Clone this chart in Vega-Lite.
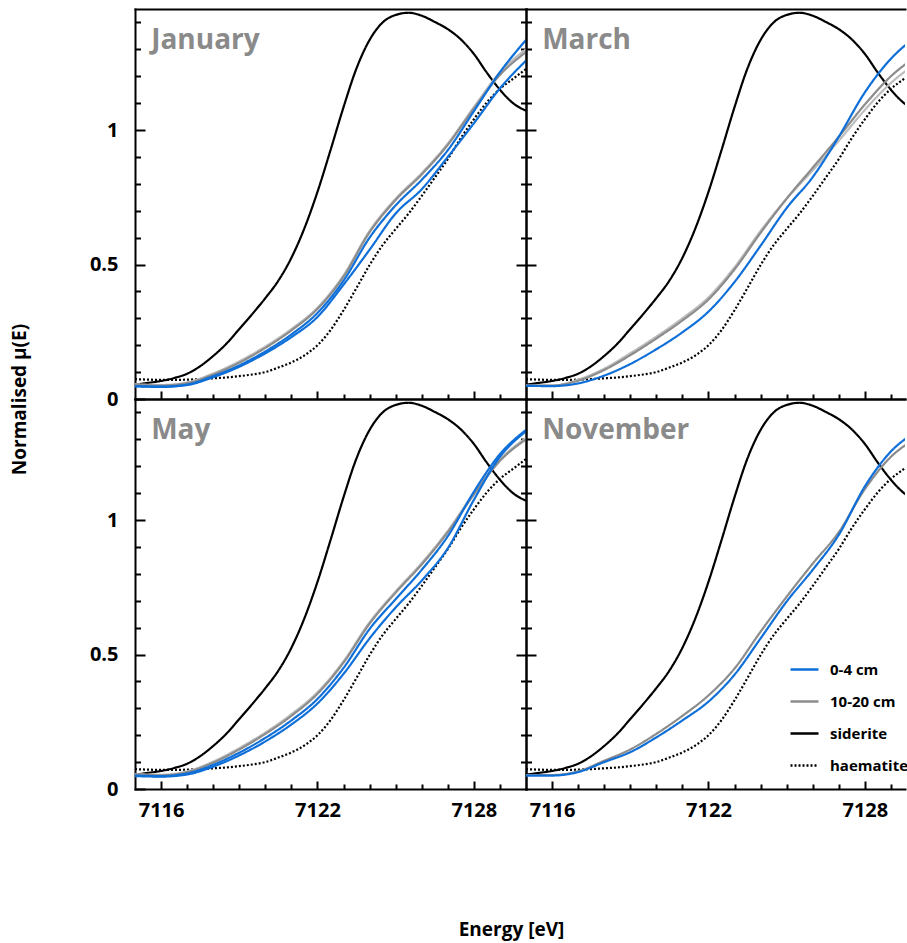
{
  "$schema": "https://vega.github.io/schema/vega-lite/v6.json",
  "padding": {"left": 10, "top": 9, "right": 0, "bottom": 3},
  "background": "white",
  "config": {"view": {"stroke": null}},
  "datasets": {
    "standards": [
      {"sample": "siderite", "energy": 7115, "mu": 0.053},
      {"sample": "siderite", "energy": 7115.5, "mu": 0.06},
      {"sample": "siderite", "energy": 7116, "mu": 0.067},
      {"sample": "siderite", "energy": 7116.5, "mu": 0.078},
      {"sample": "siderite", "energy": 7117, "mu": 0.094},
      {"sample": "siderite", "energy": 7117.5, "mu": 0.122},
      {"sample": "siderite", "energy": 7118, "mu": 0.16},
      {"sample": "siderite", "energy": 7118.5, "mu": 0.205},
      {"sample": "siderite", "energy": 7119, "mu": 0.26},
      {"sample": "siderite", "energy": 7119.5, "mu": 0.316},
      {"sample": "siderite", "energy": 7120, "mu": 0.375},
      {"sample": "siderite", "energy": 7120.5, "mu": 0.44},
      {"sample": "siderite", "energy": 7121, "mu": 0.525},
      {"sample": "siderite", "energy": 7121.5, "mu": 0.635},
      {"sample": "siderite", "energy": 7122, "mu": 0.77},
      {"sample": "siderite", "energy": 7122.5, "mu": 0.925},
      {"sample": "siderite", "energy": 7123, "mu": 1.085},
      {"sample": "siderite", "energy": 7123.5, "mu": 1.23},
      {"sample": "siderite", "energy": 7124, "mu": 1.335},
      {"sample": "siderite", "energy": 7124.5, "mu": 1.4},
      {"sample": "siderite", "energy": 7125, "mu": 1.428},
      {"sample": "siderite", "energy": 7125.5, "mu": 1.436},
      {"sample": "siderite", "energy": 7126, "mu": 1.425},
      {"sample": "siderite", "energy": 7126.5, "mu": 1.402},
      {"sample": "siderite", "energy": 7127, "mu": 1.375},
      {"sample": "siderite", "energy": 7127.5, "mu": 1.337},
      {"sample": "siderite", "energy": 7128, "mu": 1.283},
      {"sample": "siderite", "energy": 7128.5, "mu": 1.213},
      {"sample": "siderite", "energy": 7129, "mu": 1.15},
      {"sample": "siderite", "energy": 7129.5, "mu": 1.1},
      {"sample": "siderite", "energy": 7130, "mu": 1.072},
      {"sample": "haematite", "energy": 7115, "mu": 0.074},
      {"sample": "haematite", "energy": 7115.5, "mu": 0.072},
      {"sample": "haematite", "energy": 7116, "mu": 0.071},
      {"sample": "haematite", "energy": 7116.5, "mu": 0.071},
      {"sample": "haematite", "energy": 7117, "mu": 0.072},
      {"sample": "haematite", "energy": 7117.5, "mu": 0.074},
      {"sample": "haematite", "energy": 7118, "mu": 0.077},
      {"sample": "haematite", "energy": 7118.5, "mu": 0.08},
      {"sample": "haematite", "energy": 7119, "mu": 0.085},
      {"sample": "haematite", "energy": 7119.5, "mu": 0.091},
      {"sample": "haematite", "energy": 7120, "mu": 0.1},
      {"sample": "haematite", "energy": 7120.5, "mu": 0.117},
      {"sample": "haematite", "energy": 7121, "mu": 0.136},
      {"sample": "haematite", "energy": 7121.5, "mu": 0.162},
      {"sample": "haematite", "energy": 7122, "mu": 0.2},
      {"sample": "haematite", "energy": 7122.5, "mu": 0.256},
      {"sample": "haematite", "energy": 7123, "mu": 0.33},
      {"sample": "haematite", "energy": 7123.5, "mu": 0.413},
      {"sample": "haematite", "energy": 7124, "mu": 0.498},
      {"sample": "haematite", "energy": 7124.5, "mu": 0.572},
      {"sample": "haematite", "energy": 7125, "mu": 0.632},
      {"sample": "haematite", "energy": 7125.5, "mu": 0.69},
      {"sample": "haematite", "energy": 7126, "mu": 0.755},
      {"sample": "haematite", "energy": 7126.5, "mu": 0.823},
      {"sample": "haematite", "energy": 7127, "mu": 0.892},
      {"sample": "haematite", "energy": 7127.5, "mu": 0.97},
      {"sample": "haematite", "energy": 7128, "mu": 1.04},
      {"sample": "haematite", "energy": 7128.5, "mu": 1.103},
      {"sample": "haematite", "energy": 7129, "mu": 1.153},
      {"sample": "haematite", "energy": 7129.5, "mu": 1.19},
      {"sample": "haematite", "energy": 7130, "mu": 1.227}
    ],
    "samples": [
      {"month": "January", "sample": "10-20 cm (2)", "energy": 7115, "mu": 0.055},
      {"month": "January", "sample": "10-20 cm (2)", "energy": 7116, "mu": 0.052},
      {"month": "January", "sample": "10-20 cm (2)", "energy": 7117, "mu": 0.062},
      {"month": "January", "sample": "10-20 cm (2)", "energy": 7118, "mu": 0.095},
      {"month": "January", "sample": "10-20 cm (2)", "energy": 7119, "mu": 0.14},
      {"month": "January", "sample": "10-20 cm (2)", "energy": 7120, "mu": 0.195},
      {"month": "January", "sample": "10-20 cm (2)", "energy": 7121, "mu": 0.26},
      {"month": "January", "sample": "10-20 cm (2)", "energy": 7122, "mu": 0.34},
      {"month": "January", "sample": "10-20 cm (2)", "energy": 7123, "mu": 0.46},
      {"month": "January", "sample": "10-20 cm (2)", "energy": 7124, "mu": 0.625},
      {"month": "January", "sample": "10-20 cm (2)", "energy": 7125, "mu": 0.745},
      {"month": "January", "sample": "10-20 cm (2)", "energy": 7126, "mu": 0.84},
      {"month": "January", "sample": "10-20 cm (2)", "energy": 7127, "mu": 0.95},
      {"month": "January", "sample": "10-20 cm (2)", "energy": 7128, "mu": 1.085},
      {"month": "January", "sample": "10-20 cm (2)", "energy": 7129, "mu": 1.215},
      {"month": "January", "sample": "10-20 cm (2)", "energy": 7130, "mu": 1.3},
      {"month": "January", "sample": "10-20 cm", "energy": 7115, "mu": 0.052},
      {"month": "January", "sample": "10-20 cm", "energy": 7116, "mu": 0.05},
      {"month": "January", "sample": "10-20 cm", "energy": 7117, "mu": 0.059},
      {"month": "January", "sample": "10-20 cm", "energy": 7118, "mu": 0.091},
      {"month": "January", "sample": "10-20 cm", "energy": 7119, "mu": 0.135},
      {"month": "January", "sample": "10-20 cm", "energy": 7120, "mu": 0.19},
      {"month": "January", "sample": "10-20 cm", "energy": 7121, "mu": 0.255},
      {"month": "January", "sample": "10-20 cm", "energy": 7122, "mu": 0.335},
      {"month": "January", "sample": "10-20 cm", "energy": 7123, "mu": 0.455},
      {"month": "January", "sample": "10-20 cm", "energy": 7124, "mu": 0.62},
      {"month": "January", "sample": "10-20 cm", "energy": 7125, "mu": 0.74},
      {"month": "January", "sample": "10-20 cm", "energy": 7126, "mu": 0.835},
      {"month": "January", "sample": "10-20 cm", "energy": 7127, "mu": 0.945},
      {"month": "January", "sample": "10-20 cm", "energy": 7128, "mu": 1.08},
      {"month": "January", "sample": "10-20 cm", "energy": 7129, "mu": 1.205},
      {"month": "January", "sample": "10-20 cm", "energy": 7130, "mu": 1.29},
      {"month": "January", "sample": "0-4 cm (2)", "energy": 7115, "mu": 0.047},
      {"month": "January", "sample": "0-4 cm (2)", "energy": 7116, "mu": 0.045},
      {"month": "January", "sample": "0-4 cm (2)", "energy": 7117, "mu": 0.052},
      {"month": "January", "sample": "0-4 cm (2)", "energy": 7118, "mu": 0.081},
      {"month": "January", "sample": "0-4 cm (2)", "energy": 7119, "mu": 0.12},
      {"month": "January", "sample": "0-4 cm (2)", "energy": 7120, "mu": 0.17},
      {"month": "January", "sample": "0-4 cm (2)", "energy": 7121, "mu": 0.23},
      {"month": "January", "sample": "0-4 cm (2)", "energy": 7122, "mu": 0.305},
      {"month": "January", "sample": "0-4 cm (2)", "energy": 7123, "mu": 0.425},
      {"month": "January", "sample": "0-4 cm (2)", "energy": 7124, "mu": 0.555},
      {"month": "January", "sample": "0-4 cm (2)", "energy": 7125, "mu": 0.69},
      {"month": "January", "sample": "0-4 cm (2)", "energy": 7126, "mu": 0.78},
      {"month": "January", "sample": "0-4 cm (2)", "energy": 7127, "mu": 0.9},
      {"month": "January", "sample": "0-4 cm (2)", "energy": 7128, "mu": 1.025},
      {"month": "January", "sample": "0-4 cm (2)", "energy": 7129, "mu": 1.155},
      {"month": "January", "sample": "0-4 cm (2)", "energy": 7130, "mu": 1.258},
      {"month": "January", "sample": "0-4 cm", "energy": 7115, "mu": 0.048},
      {"month": "January", "sample": "0-4 cm", "energy": 7116, "mu": 0.046},
      {"month": "January", "sample": "0-4 cm", "energy": 7117, "mu": 0.054},
      {"month": "January", "sample": "0-4 cm", "energy": 7118, "mu": 0.085},
      {"month": "January", "sample": "0-4 cm", "energy": 7119, "mu": 0.125},
      {"month": "January", "sample": "0-4 cm", "energy": 7120, "mu": 0.177},
      {"month": "January", "sample": "0-4 cm", "energy": 7121, "mu": 0.24},
      {"month": "January", "sample": "0-4 cm", "energy": 7122, "mu": 0.32},
      {"month": "January", "sample": "0-4 cm", "energy": 7123, "mu": 0.44},
      {"month": "January", "sample": "0-4 cm", "energy": 7124, "mu": 0.6},
      {"month": "January", "sample": "0-4 cm", "energy": 7125, "mu": 0.72},
      {"month": "January", "sample": "0-4 cm", "energy": 7126, "mu": 0.815},
      {"month": "January", "sample": "0-4 cm", "energy": 7127, "mu": 0.925},
      {"month": "January", "sample": "0-4 cm", "energy": 7128, "mu": 1.07},
      {"month": "January", "sample": "0-4 cm", "energy": 7129, "mu": 1.215},
      {"month": "January", "sample": "0-4 cm", "energy": 7130, "mu": 1.335},
      {"month": "March", "sample": "10-20 cm (2)", "energy": 7115, "mu": 0.05},
      {"month": "March", "sample": "10-20 cm (2)", "energy": 7116, "mu": 0.05},
      {"month": "March", "sample": "10-20 cm (2)", "energy": 7117, "mu": 0.072},
      {"month": "March", "sample": "10-20 cm (2)", "energy": 7118, "mu": 0.113},
      {"month": "March", "sample": "10-20 cm (2)", "energy": 7119, "mu": 0.17},
      {"month": "March", "sample": "10-20 cm (2)", "energy": 7120, "mu": 0.232},
      {"month": "March", "sample": "10-20 cm (2)", "energy": 7121, "mu": 0.3},
      {"month": "March", "sample": "10-20 cm (2)", "energy": 7122, "mu": 0.378},
      {"month": "March", "sample": "10-20 cm (2)", "energy": 7123, "mu": 0.49},
      {"month": "March", "sample": "10-20 cm (2)", "energy": 7124, "mu": 0.625},
      {"month": "March", "sample": "10-20 cm (2)", "energy": 7125, "mu": 0.745},
      {"month": "March", "sample": "10-20 cm (2)", "energy": 7126, "mu": 0.85},
      {"month": "March", "sample": "10-20 cm (2)", "energy": 7127, "mu": 0.96},
      {"month": "March", "sample": "10-20 cm (2)", "energy": 7128, "mu": 1.075},
      {"month": "March", "sample": "10-20 cm (2)", "energy": 7129, "mu": 1.175},
      {"month": "March", "sample": "10-20 cm (2)", "energy": 7130, "mu": 1.25},
      {"month": "March", "sample": "10-20 cm", "energy": 7115, "mu": 0.05},
      {"month": "March", "sample": "10-20 cm", "energy": 7116, "mu": 0.05},
      {"month": "March", "sample": "10-20 cm", "energy": 7117, "mu": 0.068},
      {"month": "March", "sample": "10-20 cm", "energy": 7118, "mu": 0.108},
      {"month": "March", "sample": "10-20 cm", "energy": 7119, "mu": 0.163},
      {"month": "March", "sample": "10-20 cm", "energy": 7120, "mu": 0.225},
      {"month": "March", "sample": "10-20 cm", "energy": 7121, "mu": 0.292},
      {"month": "March", "sample": "10-20 cm", "energy": 7122, "mu": 0.37},
      {"month": "March", "sample": "10-20 cm", "energy": 7123, "mu": 0.482},
      {"month": "March", "sample": "10-20 cm", "energy": 7124, "mu": 0.618},
      {"month": "March", "sample": "10-20 cm", "energy": 7125, "mu": 0.745},
      {"month": "March", "sample": "10-20 cm", "energy": 7126, "mu": 0.86},
      {"month": "March", "sample": "10-20 cm", "energy": 7127, "mu": 0.975},
      {"month": "March", "sample": "10-20 cm", "energy": 7128, "mu": 1.095},
      {"month": "March", "sample": "10-20 cm", "energy": 7129, "mu": 1.2},
      {"month": "March", "sample": "10-20 cm", "energy": 7130, "mu": 1.275},
      {"month": "March", "sample": "0-4 cm", "energy": 7115, "mu": 0.049},
      {"month": "March", "sample": "0-4 cm", "energy": 7116, "mu": 0.048},
      {"month": "March", "sample": "0-4 cm", "energy": 7117, "mu": 0.058},
      {"month": "March", "sample": "0-4 cm", "energy": 7118, "mu": 0.087},
      {"month": "March", "sample": "0-4 cm", "energy": 7119, "mu": 0.13},
      {"month": "March", "sample": "0-4 cm", "energy": 7120, "mu": 0.185},
      {"month": "March", "sample": "0-4 cm", "energy": 7121, "mu": 0.248},
      {"month": "March", "sample": "0-4 cm", "energy": 7122, "mu": 0.325},
      {"month": "March", "sample": "0-4 cm", "energy": 7123, "mu": 0.435},
      {"month": "March", "sample": "0-4 cm", "energy": 7124, "mu": 0.57},
      {"month": "March", "sample": "0-4 cm", "energy": 7125, "mu": 0.71},
      {"month": "March", "sample": "0-4 cm", "energy": 7126, "mu": 0.825},
      {"month": "March", "sample": "0-4 cm", "energy": 7127, "mu": 0.975},
      {"month": "March", "sample": "0-4 cm", "energy": 7128, "mu": 1.14},
      {"month": "March", "sample": "0-4 cm", "energy": 7129, "mu": 1.265},
      {"month": "March", "sample": "0-4 cm", "energy": 7130, "mu": 1.35},
      {"month": "May", "sample": "10-20 cm (2)", "energy": 7115, "mu": 0.055},
      {"month": "May", "sample": "10-20 cm (2)", "energy": 7116, "mu": 0.053},
      {"month": "May", "sample": "10-20 cm (2)", "energy": 7117, "mu": 0.066},
      {"month": "May", "sample": "10-20 cm (2)", "energy": 7118, "mu": 0.102},
      {"month": "May", "sample": "10-20 cm (2)", "energy": 7119, "mu": 0.152},
      {"month": "May", "sample": "10-20 cm (2)", "energy": 7120, "mu": 0.21},
      {"month": "May", "sample": "10-20 cm (2)", "energy": 7121, "mu": 0.278},
      {"month": "May", "sample": "10-20 cm (2)", "energy": 7122, "mu": 0.36},
      {"month": "May", "sample": "10-20 cm (2)", "energy": 7123, "mu": 0.475},
      {"month": "May", "sample": "10-20 cm (2)", "energy": 7124, "mu": 0.62},
      {"month": "May", "sample": "10-20 cm (2)", "energy": 7125, "mu": 0.735},
      {"month": "May", "sample": "10-20 cm (2)", "energy": 7126, "mu": 0.84},
      {"month": "May", "sample": "10-20 cm (2)", "energy": 7127, "mu": 0.96},
      {"month": "May", "sample": "10-20 cm (2)", "energy": 7128, "mu": 1.1},
      {"month": "May", "sample": "10-20 cm (2)", "energy": 7129, "mu": 1.225},
      {"month": "May", "sample": "10-20 cm (2)", "energy": 7130, "mu": 1.305},
      {"month": "May", "sample": "10-20 cm", "energy": 7115, "mu": 0.053},
      {"month": "May", "sample": "10-20 cm", "energy": 7116, "mu": 0.051},
      {"month": "May", "sample": "10-20 cm", "energy": 7117, "mu": 0.063},
      {"month": "May", "sample": "10-20 cm", "energy": 7118, "mu": 0.098},
      {"month": "May", "sample": "10-20 cm", "energy": 7119, "mu": 0.147},
      {"month": "May", "sample": "10-20 cm", "energy": 7120, "mu": 0.205},
      {"month": "May", "sample": "10-20 cm", "energy": 7121, "mu": 0.272},
      {"month": "May", "sample": "10-20 cm", "energy": 7122, "mu": 0.354},
      {"month": "May", "sample": "10-20 cm", "energy": 7123, "mu": 0.47},
      {"month": "May", "sample": "10-20 cm", "energy": 7124, "mu": 0.615},
      {"month": "May", "sample": "10-20 cm", "energy": 7125, "mu": 0.73},
      {"month": "May", "sample": "10-20 cm", "energy": 7126, "mu": 0.835},
      {"month": "May", "sample": "10-20 cm", "energy": 7127, "mu": 0.955},
      {"month": "May", "sample": "10-20 cm", "energy": 7128, "mu": 1.095},
      {"month": "May", "sample": "10-20 cm", "energy": 7129, "mu": 1.22},
      {"month": "May", "sample": "10-20 cm", "energy": 7130, "mu": 1.3},
      {"month": "May", "sample": "0-4 cm (2)", "energy": 7115, "mu": 0.048},
      {"month": "May", "sample": "0-4 cm (2)", "energy": 7116, "mu": 0.046},
      {"month": "May", "sample": "0-4 cm (2)", "energy": 7117, "mu": 0.054},
      {"month": "May", "sample": "0-4 cm (2)", "energy": 7118, "mu": 0.083},
      {"month": "May", "sample": "0-4 cm (2)", "energy": 7119, "mu": 0.125},
      {"month": "May", "sample": "0-4 cm (2)", "energy": 7120, "mu": 0.177},
      {"month": "May", "sample": "0-4 cm (2)", "energy": 7121, "mu": 0.24},
      {"month": "May", "sample": "0-4 cm (2)", "energy": 7122, "mu": 0.318},
      {"month": "May", "sample": "0-4 cm (2)", "energy": 7123, "mu": 0.428},
      {"month": "May", "sample": "0-4 cm (2)", "energy": 7124, "mu": 0.56},
      {"month": "May", "sample": "0-4 cm (2)", "energy": 7125, "mu": 0.675},
      {"month": "May", "sample": "0-4 cm (2)", "energy": 7126, "mu": 0.775},
      {"month": "May", "sample": "0-4 cm (2)", "energy": 7127, "mu": 0.895},
      {"month": "May", "sample": "0-4 cm (2)", "energy": 7128, "mu": 1.075},
      {"month": "May", "sample": "0-4 cm (2)", "energy": 7129, "mu": 1.235},
      {"month": "May", "sample": "0-4 cm (2)", "energy": 7130, "mu": 1.33},
      {"month": "May", "sample": "0-4 cm", "energy": 7115, "mu": 0.05},
      {"month": "May", "sample": "0-4 cm", "energy": 7116, "mu": 0.048},
      {"month": "May", "sample": "0-4 cm", "energy": 7117, "mu": 0.058},
      {"month": "May", "sample": "0-4 cm", "energy": 7118, "mu": 0.09},
      {"month": "May", "sample": "0-4 cm", "energy": 7119, "mu": 0.135},
      {"month": "May", "sample": "0-4 cm", "energy": 7120, "mu": 0.19},
      {"month": "May", "sample": "0-4 cm", "energy": 7121, "mu": 0.255},
      {"month": "May", "sample": "0-4 cm", "energy": 7122, "mu": 0.335},
      {"month": "May", "sample": "0-4 cm", "energy": 7123, "mu": 0.45},
      {"month": "May", "sample": "0-4 cm", "energy": 7124, "mu": 0.595},
      {"month": "May", "sample": "0-4 cm", "energy": 7125, "mu": 0.706},
      {"month": "May", "sample": "0-4 cm", "energy": 7126, "mu": 0.815},
      {"month": "May", "sample": "0-4 cm", "energy": 7127, "mu": 0.94},
      {"month": "May", "sample": "0-4 cm", "energy": 7128, "mu": 1.105},
      {"month": "May", "sample": "0-4 cm", "energy": 7129, "mu": 1.245},
      {"month": "May", "sample": "0-4 cm", "energy": 7130, "mu": 1.335},
      {"month": "November", "sample": "10-20 cm", "energy": 7115, "mu": 0.052},
      {"month": "November", "sample": "10-20 cm", "energy": 7116, "mu": 0.052},
      {"month": "November", "sample": "10-20 cm", "energy": 7117, "mu": 0.066},
      {"month": "November", "sample": "10-20 cm", "energy": 7118, "mu": 0.105},
      {"month": "November", "sample": "10-20 cm", "energy": 7119, "mu": 0.147},
      {"month": "November", "sample": "10-20 cm", "energy": 7120, "mu": 0.205},
      {"month": "November", "sample": "10-20 cm", "energy": 7121, "mu": 0.272},
      {"month": "November", "sample": "10-20 cm", "energy": 7122, "mu": 0.348},
      {"month": "November", "sample": "10-20 cm", "energy": 7123, "mu": 0.448},
      {"month": "November", "sample": "10-20 cm", "energy": 7124, "mu": 0.585},
      {"month": "November", "sample": "10-20 cm", "energy": 7125, "mu": 0.715},
      {"month": "November", "sample": "10-20 cm", "energy": 7126, "mu": 0.838},
      {"month": "November", "sample": "10-20 cm", "energy": 7127, "mu": 0.955},
      {"month": "November", "sample": "10-20 cm", "energy": 7128, "mu": 1.115},
      {"month": "November", "sample": "10-20 cm", "energy": 7129, "mu": 1.235},
      {"month": "November", "sample": "10-20 cm", "energy": 7130, "mu": 1.305},
      {"month": "November", "sample": "0-4 cm", "energy": 7115, "mu": 0.05},
      {"month": "November", "sample": "0-4 cm", "energy": 7116, "mu": 0.05},
      {"month": "November", "sample": "0-4 cm", "energy": 7117, "mu": 0.063},
      {"month": "November", "sample": "0-4 cm", "energy": 7118, "mu": 0.1},
      {"month": "November", "sample": "0-4 cm", "energy": 7119, "mu": 0.137},
      {"month": "November", "sample": "0-4 cm", "energy": 7120, "mu": 0.192},
      {"month": "November", "sample": "0-4 cm", "energy": 7121, "mu": 0.255},
      {"month": "November", "sample": "0-4 cm", "energy": 7122, "mu": 0.325},
      {"month": "November", "sample": "0-4 cm", "energy": 7123, "mu": 0.425},
      {"month": "November", "sample": "0-4 cm", "energy": 7124, "mu": 0.56},
      {"month": "November", "sample": "0-4 cm", "energy": 7125, "mu": 0.697},
      {"month": "November", "sample": "0-4 cm", "energy": 7126, "mu": 0.815},
      {"month": "November", "sample": "0-4 cm", "energy": 7127, "mu": 0.945},
      {"month": "November", "sample": "0-4 cm", "energy": 7128, "mu": 1.125},
      {"month": "November", "sample": "0-4 cm", "energy": 7129, "mu": 1.255},
      {"month": "November", "sample": "0-4 cm", "energy": 7130, "mu": 1.33}
    ]
  },
  "columns": 2,
  "spacing": 0,
  "bounds": "flush",
  "resolve": {"scale": {"color": "independent", "strokeDash": "independent"}, "legend": {"color": "independent", "strokeDash": "independent"}},
  "concat": [
    {
      "width": 391, "height": 390,
      "resolve": {"axis": {"x": "independent", "y": "independent"}},
      "layer": [
        {
          "data": {"name": "standards"},
          "transform": [{"filter": {"field": "sample", "equal": "siderite"}}],
          "mark": {"type": "line", "interpolate": "monotone", "strokeWidth": 2.2, "clip": true},
          "encoding": {
            "x": {"field": "energy", "type": "quantitative", "scale": {"domain": [7115, 7130], "nice": false, "zero": false},
              "axis": {"orient": "bottom", "values": [7116, 7122, 7128], "tickSize": -8, "tickWidth": 2, "tickColor": "#000", "domain": true, "domainColor": "#000", "domainWidth": 2, "domainCap": "square", "labels": false, "grid": false, "title": null}},
            "y": {"field": "mu", "type": "quantitative", "scale": {"domain": [0, 1.45], "nice": false, "zero": false},
              "axis": {"orient": "left", "values": [0, 0.5, 1], "tickSize": -10, "tickWidth": 2, "tickColor": "#000", "domain": true, "domainColor": "#000", "domainWidth": 2, "domainCap": "square", "labelExpr": "format(datum.value,'~g')", "labelFont": "Open Sans", "labelFontSize": 20, "labelFontWeight": "bold", "labelColor": "#000", "labelPadding": 27, "labelFlush": false, "labelOverlap": false, "grid": false,
                "title": "Normalised µ(E)", "titleX": -116, "titleY": 390, "titleAngle": -90, "titleAlign": "center", "titleBaseline": "middle", "titleFont": "Open Sans", "titleFontSize": 19, "titleFontWeight": "bold", "titleColor": "#000"}},
            "color": {"field": "sample", "type": "nominal", "scale": {"domain": ["0-4 cm","0-4 cm (2)","10-20 cm","10-20 cm (2)","siderite","haematite"], "range": ["#0f6fd8","#0f6fd8","#8c8c8c","#bdbdbd","#000000","#000000"]}, "legend": null},
            "strokeDash": {"field": "sample", "type": "nominal", "scale": {"domain": ["0-4 cm","0-4 cm (2)","10-20 cm","10-20 cm (2)","siderite","haematite"], "range": [[1,0],[1,0],[1,0],[1,0],[1,0],[2,2]]}, "legend": null}
          }
        },
        {
          "data": {"name": "standards"},
          "transform": [{"filter": {"field": "sample", "equal": "haematite"}}],
          "mark": {"type": "line", "interpolate": "monotone", "strokeWidth": 2.2, "clip": true},
          "encoding": {
            "x": {"field": "energy", "type": "quantitative", "scale": {"domain": [7115, 7130], "nice": false, "zero": false},
              "axis": {"orient": "bottom", "values": [7117,7118,7119,7120,7121,7123,7124,7125,7126,7127,7129], "tickSize": -5, "tickWidth": 2, "tickColor": "#000", "domain": false, "labels": false, "grid": false, "title": null}},
            "y": {"field": "mu", "type": "quantitative", "scale": {"domain": [0, 1.45], "nice": false, "zero": false},
              "axis": {"orient": "left", "values": [0.1,0.2,0.3,0.4,0.6,0.7,0.8,0.9,1.1,1.2,1.3,1.4], "tickSize": -5.5, "tickWidth": 2, "tickColor": "#000", "domain": false, "labels": false, "grid": false, "title": null}},
            "color": {"field": "sample", "type": "nominal", "scale": {"domain": ["0-4 cm","0-4 cm (2)","10-20 cm","10-20 cm (2)","siderite","haematite"], "range": ["#0f6fd8","#0f6fd8","#8c8c8c","#bdbdbd","#000000","#000000"]}, "legend": null},
            "strokeDash": {"field": "sample", "type": "nominal", "scale": {"domain": ["0-4 cm","0-4 cm (2)","10-20 cm","10-20 cm (2)","siderite","haematite"], "range": [[1,0],[1,0],[1,0],[1,0],[1,0],[2,2]]}, "legend": null}
          }
        },
        {
          "data": {"name": "samples"},
          "transform": [{"filter": {"field": "month", "equal": "January"}}, {"filter": {"field": "sample", "oneOf": ["10-20 cm", "10-20 cm (2)"]}}],
          "mark": {"type": "line", "interpolate": "monotone", "strokeWidth": 2.2, "clip": true},
          "encoding": {
            "x": {"field": "energy", "type": "quantitative", "scale": {"domain": [7115, 7130], "nice": false, "zero": false},
              "axis": {"orient": "top", "ticks": false, "labels": false, "domain": true, "domainColor": "#000", "domainWidth": 2, "domainCap": "square", "grid": false, "title": null}},
            "y": {"field": "mu", "type": "quantitative", "scale": {"domain": [0, 1.45], "nice": false, "zero": false},
              "axis": {"orient": "right", "values": [0.5, 1], "tickSize": -10, "tickWidth": 2, "tickColor": "#000", "domain": true, "domainColor": "#000", "domainWidth": 2, "domainCap": "square", "labels": false, "grid": false, "title": null}},
            "color": {"field": "sample", "type": "nominal", "scale": {"domain": ["0-4 cm","0-4 cm (2)","10-20 cm","10-20 cm (2)","siderite","haematite"], "range": ["#0f6fd8","#0f6fd8","#8c8c8c","#bdbdbd","#000000","#000000"]}, "legend": null},
            "strokeDash": {"field": "sample", "type": "nominal", "scale": {"domain": ["0-4 cm","0-4 cm (2)","10-20 cm","10-20 cm (2)","siderite","haematite"], "range": [[1,0],[1,0],[1,0],[1,0],[1,0],[2,2]]}, "legend": null}
          }
        },
        {
          "data": {"name": "samples"},
          "transform": [{"filter": {"field": "month", "equal": "January"}}, {"filter": {"field": "sample", "oneOf": ["0-4 cm", "0-4 cm (2)"]}}],
          "mark": {"type": "line", "interpolate": "monotone", "strokeWidth": 2.2, "clip": true},
          "encoding": {
            "x": {"field": "energy", "type": "quantitative", "scale": {"domain": [7115, 7130], "nice": false, "zero": false}, "axis": null},
            "y": {"field": "mu", "type": "quantitative", "scale": {"domain": [0, 1.45], "nice": false, "zero": false},
              "axis": {"orient": "right", "values": [0.1,0.2,0.3,0.4,0.6,0.7,0.8,0.9,1.1,1.2,1.3,1.4], "tickSize": -5.5, "tickWidth": 2, "tickColor": "#000", "domain": false, "labels": false, "grid": false, "title": null}},
            "color": {"field": "sample", "type": "nominal", "scale": {"domain": ["0-4 cm","0-4 cm (2)","10-20 cm","10-20 cm (2)","siderite","haematite"], "range": ["#0f6fd8","#0f6fd8","#8c8c8c","#bdbdbd","#000000","#000000"]}, "legend": null},
            "strokeDash": {"field": "sample", "type": "nominal", "scale": {"domain": ["0-4 cm","0-4 cm (2)","10-20 cm","10-20 cm (2)","siderite","haematite"], "range": [[1,0],[1,0],[1,0],[1,0],[1,0],[2,2]]}, "legend": null}
          }
        },
        {
          "data": {"values": [{"month": "January"}]},
          "mark": {"type": "text", "align": "left", "baseline": "alphabetic", "font": "Open Sans", "fontSize": 28, "fontWeight": "bold", "color": "#8a8a8a"},
          "encoding": {
            "x": {"datum": 7115.62, "type": "quantitative", "axis": null},
            "y": {"datum": 1.3, "type": "quantitative", "axis": null},
            "text": {"field": "month"}
          }
        }
      ]
    },
    {
      "width": 379, "height": 390,
      "resolve": {"axis": {"x": "independent", "y": "independent"}},
      "layer": [
        {
          "data": {"name": "standards"},
          "transform": [{"filter": {"field": "sample", "equal": "siderite"}}],
          "mark": {"type": "line", "interpolate": "monotone", "strokeWidth": 2.2, "clip": true},
          "encoding": {
            "x": {"field": "energy", "type": "quantitative", "scale": {"domain": [7115, 7129.54], "nice": false, "zero": false},
              "axis": {"orient": "bottom", "values": [7116, 7122, 7128], "tickSize": -8, "tickWidth": 2, "tickColor": "#000", "domain": true, "domainColor": "#000", "domainWidth": 2, "domainCap": "square", "labels": false, "grid": false, "title": null}},
            "y": {"field": "mu", "type": "quantitative", "scale": {"domain": [0, 1.45], "nice": false, "zero": false},
              "axis": {"orient": "left", "values": [0.5, 1], "tickSize": -10, "tickWidth": 2, "tickColor": "#000", "domain": true, "domainColor": "#000", "domainWidth": 2, "domainCap": "square", "labels": false, "grid": false, "title": null}},
            "color": {"field": "sample", "type": "nominal", "scale": {"domain": ["0-4 cm","0-4 cm (2)","10-20 cm","10-20 cm (2)","siderite","haematite"], "range": ["#0f6fd8","#0f6fd8","#8c8c8c","#bdbdbd","#000000","#000000"]}, "legend": null},
            "strokeDash": {"field": "sample", "type": "nominal", "scale": {"domain": ["0-4 cm","0-4 cm (2)","10-20 cm","10-20 cm (2)","siderite","haematite"], "range": [[1,0],[1,0],[1,0],[1,0],[1,0],[2,2]]}, "legend": null}
          }
        },
        {
          "data": {"name": "standards"},
          "transform": [{"filter": {"field": "sample", "equal": "haematite"}}],
          "mark": {"type": "line", "interpolate": "monotone", "strokeWidth": 2.2, "clip": true},
          "encoding": {
            "x": {"field": "energy", "type": "quantitative", "scale": {"domain": [7115, 7129.54], "nice": false, "zero": false},
              "axis": {"orient": "bottom", "values": [7117,7118,7119,7120,7121,7123,7124,7125,7126,7127,7129], "tickSize": -5, "tickWidth": 2, "tickColor": "#000", "domain": false, "labels": false, "grid": false, "title": null}},
            "y": {"field": "mu", "type": "quantitative", "scale": {"domain": [0, 1.45], "nice": false, "zero": false},
              "axis": {"orient": "left", "values": [0.1,0.2,0.3,0.4,0.6,0.7,0.8,0.9,1.1,1.2,1.3,1.4], "tickSize": -5.5, "tickWidth": 2, "tickColor": "#000", "domain": false, "labels": false, "grid": false, "title": null}},
            "color": {"field": "sample", "type": "nominal", "scale": {"domain": ["0-4 cm","0-4 cm (2)","10-20 cm","10-20 cm (2)","siderite","haematite"], "range": ["#0f6fd8","#0f6fd8","#8c8c8c","#bdbdbd","#000000","#000000"]}, "legend": null},
            "strokeDash": {"field": "sample", "type": "nominal", "scale": {"domain": ["0-4 cm","0-4 cm (2)","10-20 cm","10-20 cm (2)","siderite","haematite"], "range": [[1,0],[1,0],[1,0],[1,0],[1,0],[2,2]]}, "legend": null}
          }
        },
        {
          "data": {"name": "samples"},
          "transform": [{"filter": {"field": "month", "equal": "March"}}, {"filter": {"field": "sample", "oneOf": ["10-20 cm", "10-20 cm (2)"]}}],
          "mark": {"type": "line", "interpolate": "monotone", "strokeWidth": 2.2, "clip": true},
          "encoding": {
            "x": {"field": "energy", "type": "quantitative", "scale": {"domain": [7115, 7129.54], "nice": false, "zero": false},
              "axis": {"orient": "top", "ticks": false, "labels": false, "domain": true, "domainColor": "#000", "domainWidth": 2, "domainCap": "square", "grid": false, "title": null}},
            "y": {"field": "mu", "type": "quantitative", "scale": {"domain": [0, 1.45], "nice": false, "zero": false}, "axis": null},
            "color": {"field": "sample", "type": "nominal", "scale": {"domain": ["0-4 cm","0-4 cm (2)","10-20 cm","10-20 cm (2)","siderite","haematite"], "range": ["#0f6fd8","#0f6fd8","#8c8c8c","#bdbdbd","#000000","#000000"]}, "legend": null},
            "strokeDash": {"field": "sample", "type": "nominal", "scale": {"domain": ["0-4 cm","0-4 cm (2)","10-20 cm","10-20 cm (2)","siderite","haematite"], "range": [[1,0],[1,0],[1,0],[1,0],[1,0],[2,2]]}, "legend": null}
          }
        },
        {
          "data": {"name": "samples"},
          "transform": [{"filter": {"field": "month", "equal": "March"}}, {"filter": {"field": "sample", "oneOf": ["0-4 cm", "0-4 cm (2)"]}}],
          "mark": {"type": "line", "interpolate": "monotone", "strokeWidth": 2.2, "clip": true},
          "encoding": {
            "x": {"field": "energy", "type": "quantitative", "scale": {"domain": [7115, 7129.54], "nice": false, "zero": false}, "axis": null},
            "y": {"field": "mu", "type": "quantitative", "scale": {"domain": [0, 1.45], "nice": false, "zero": false}, "axis": null},
            "color": {"field": "sample", "type": "nominal", "scale": {"domain": ["0-4 cm","0-4 cm (2)","10-20 cm","10-20 cm (2)","siderite","haematite"], "range": ["#0f6fd8","#0f6fd8","#8c8c8c","#bdbdbd","#000000","#000000"]}, "legend": null},
            "strokeDash": {"field": "sample", "type": "nominal", "scale": {"domain": ["0-4 cm","0-4 cm (2)","10-20 cm","10-20 cm (2)","siderite","haematite"], "range": [[1,0],[1,0],[1,0],[1,0],[1,0],[2,2]]}, "legend": null}
          }
        },
        {
          "data": {"values": [{"month": "March"}]},
          "mark": {"type": "text", "align": "left", "baseline": "alphabetic", "font": "Open Sans", "fontSize": 28, "fontWeight": "bold", "color": "#8a8a8a"},
          "encoding": {
            "x": {"datum": 7115.62, "type": "quantitative", "axis": null},
            "y": {"datum": 1.3, "type": "quantitative", "axis": null},
            "text": {"field": "month"}
          }
        }
      ]
    },
    {
      "width": 391, "height": 390,
      "resolve": {"axis": {"x": "independent", "y": "independent"}},
      "layer": [
        {
          "data": {"name": "standards"},
          "transform": [{"filter": {"field": "sample", "equal": "siderite"}}],
          "mark": {"type": "line", "interpolate": "monotone", "strokeWidth": 2.2, "clip": true},
          "encoding": {
            "x": {"field": "energy", "type": "quantitative", "scale": {"domain": [7115, 7130], "nice": false, "zero": false},
              "axis": {"orient": "bottom", "values": [7116, 7122, 7128], "tickSize": -8, "tickWidth": 2, "tickColor": "#000", "domain": true, "domainColor": "#000", "domainWidth": 2, "domainCap": "square", "labelExpr": "format(datum.value,'d')", "labelFont": "Open Sans", "labelFontSize": 20, "labelFontWeight": "bold", "labelColor": "#000", "labelPadding": 19, "labelFlush": false, "labelOverlap": false, "grid": false,
                "title": "Energy [eV]", "titleX": 376, "titleY": 146, "titleAngle": 0, "titleAlign": "center", "titleBaseline": "alphabetic", "titleFont": "Open Sans", "titleFontSize": 19, "titleFontWeight": "bold", "titleColor": "#000"}},
            "y": {"field": "mu", "type": "quantitative", "scale": {"domain": [0, 1.45], "nice": false, "zero": false},
              "axis": {"orient": "left", "values": [0, 0.5, 1], "tickSize": -10, "tickWidth": 2, "tickColor": "#000", "domain": true, "domainColor": "#000", "domainWidth": 2, "domainCap": "square", "labelExpr": "format(datum.value,'~g')", "labelFont": "Open Sans", "labelFontSize": 20, "labelFontWeight": "bold", "labelColor": "#000", "labelPadding": 27, "labelFlush": false, "labelOverlap": false, "grid": false, "title": null}},
            "color": {"field": "sample", "type": "nominal", "scale": {"domain": ["0-4 cm","0-4 cm (2)","10-20 cm","10-20 cm (2)","siderite","haematite"], "range": ["#0f6fd8","#0f6fd8","#8c8c8c","#bdbdbd","#000000","#000000"]}, "legend": null},
            "strokeDash": {"field": "sample", "type": "nominal", "scale": {"domain": ["0-4 cm","0-4 cm (2)","10-20 cm","10-20 cm (2)","siderite","haematite"], "range": [[1,0],[1,0],[1,0],[1,0],[1,0],[2,2]]}, "legend": null}
          }
        },
        {
          "data": {"name": "standards"},
          "transform": [{"filter": {"field": "sample", "equal": "haematite"}}],
          "mark": {"type": "line", "interpolate": "monotone", "strokeWidth": 2.2, "clip": true},
          "encoding": {
            "x": {"field": "energy", "type": "quantitative", "scale": {"domain": [7115, 7130], "nice": false, "zero": false},
              "axis": {"orient": "bottom", "values": [7117,7118,7119,7120,7121,7123,7124,7125,7126,7127,7129], "tickSize": -5, "tickWidth": 2, "tickColor": "#000", "domain": false, "labels": false, "grid": false, "title": null}},
            "y": {"field": "mu", "type": "quantitative", "scale": {"domain": [0, 1.45], "nice": false, "zero": false},
              "axis": {"orient": "left", "values": [0.1,0.2,0.3,0.4,0.6,0.7,0.8,0.9,1.1,1.2,1.3,1.4], "tickSize": -5.5, "tickWidth": 2, "tickColor": "#000", "domain": false, "labels": false, "grid": false, "title": null}},
            "color": {"field": "sample", "type": "nominal", "scale": {"domain": ["0-4 cm","0-4 cm (2)","10-20 cm","10-20 cm (2)","siderite","haematite"], "range": ["#0f6fd8","#0f6fd8","#8c8c8c","#bdbdbd","#000000","#000000"]}, "legend": null},
            "strokeDash": {"field": "sample", "type": "nominal", "scale": {"domain": ["0-4 cm","0-4 cm (2)","10-20 cm","10-20 cm (2)","siderite","haematite"], "range": [[1,0],[1,0],[1,0],[1,0],[1,0],[2,2]]}, "legend": null}
          }
        },
        {
          "data": {"name": "samples"},
          "transform": [{"filter": {"field": "month", "equal": "May"}}, {"filter": {"field": "sample", "oneOf": ["10-20 cm", "10-20 cm (2)"]}}],
          "mark": {"type": "line", "interpolate": "monotone", "strokeWidth": 2.2, "clip": true},
          "encoding": {
            "x": {"field": "energy", "type": "quantitative", "scale": {"domain": [7115, 7130], "nice": false, "zero": false},
              "axis": {"orient": "top", "ticks": false, "labels": false, "domain": true, "domainColor": "#000", "domainWidth": 2, "domainCap": "square", "grid": false, "title": null}},
            "y": {"field": "mu", "type": "quantitative", "scale": {"domain": [0, 1.45], "nice": false, "zero": false},
              "axis": {"orient": "right", "values": [0.5, 1], "tickSize": -10, "tickWidth": 2, "tickColor": "#000", "domain": true, "domainColor": "#000", "domainWidth": 2, "domainCap": "square", "labels": false, "grid": false, "title": null}},
            "color": {"field": "sample", "type": "nominal", "scale": {"domain": ["0-4 cm","0-4 cm (2)","10-20 cm","10-20 cm (2)","siderite","haematite"], "range": ["#0f6fd8","#0f6fd8","#8c8c8c","#bdbdbd","#000000","#000000"]}, "legend": null},
            "strokeDash": {"field": "sample", "type": "nominal", "scale": {"domain": ["0-4 cm","0-4 cm (2)","10-20 cm","10-20 cm (2)","siderite","haematite"], "range": [[1,0],[1,0],[1,0],[1,0],[1,0],[2,2]]}, "legend": null}
          }
        },
        {
          "data": {"name": "samples"},
          "transform": [{"filter": {"field": "month", "equal": "May"}}, {"filter": {"field": "sample", "oneOf": ["0-4 cm", "0-4 cm (2)"]}}],
          "mark": {"type": "line", "interpolate": "monotone", "strokeWidth": 2.2, "clip": true},
          "encoding": {
            "x": {"field": "energy", "type": "quantitative", "scale": {"domain": [7115, 7130], "nice": false, "zero": false}, "axis": null},
            "y": {"field": "mu", "type": "quantitative", "scale": {"domain": [0, 1.45], "nice": false, "zero": false},
              "axis": {"orient": "right", "values": [0.1,0.2,0.3,0.4,0.6,0.7,0.8,0.9,1.1,1.2,1.3,1.4], "tickSize": -5.5, "tickWidth": 2, "tickColor": "#000", "domain": false, "labels": false, "grid": false, "title": null}},
            "color": {"field": "sample", "type": "nominal", "scale": {"domain": ["0-4 cm","0-4 cm (2)","10-20 cm","10-20 cm (2)","siderite","haematite"], "range": ["#0f6fd8","#0f6fd8","#8c8c8c","#bdbdbd","#000000","#000000"]}, "legend": null},
            "strokeDash": {"field": "sample", "type": "nominal", "scale": {"domain": ["0-4 cm","0-4 cm (2)","10-20 cm","10-20 cm (2)","siderite","haematite"], "range": [[1,0],[1,0],[1,0],[1,0],[1,0],[2,2]]}, "legend": null}
          }
        },
        {
          "data": {"values": [{"month": "May"}]},
          "mark": {"type": "text", "align": "left", "baseline": "alphabetic", "font": "Open Sans", "fontSize": 28, "fontWeight": "bold", "color": "#8a8a8a"},
          "encoding": {
            "x": {"datum": 7115.62, "type": "quantitative", "axis": null},
            "y": {"datum": 1.3, "type": "quantitative", "axis": null},
            "text": {"field": "month"}
          }
        }
      ]
    },
    {
      "width": 379, "height": 390,
      "resolve": {"axis": {"x": "independent", "y": "independent"}},
      "layer": [
        {
          "data": {"name": "standards"},
          "transform": [{"filter": {"field": "sample", "equal": "siderite"}}],
          "mark": {"type": "line", "interpolate": "monotone", "strokeWidth": 2.2, "clip": true},
          "encoding": {
            "x": {"field": "energy", "type": "quantitative", "scale": {"domain": [7115, 7129.54], "nice": false, "zero": false},
              "axis": {"orient": "bottom", "values": [7116, 7122, 7128], "tickSize": -8, "tickWidth": 2, "tickColor": "#000", "domain": true, "domainColor": "#000", "domainWidth": 2, "domainCap": "square", "labelExpr": "format(datum.value,'d')", "labelFont": "Open Sans", "labelFontSize": 20, "labelFontWeight": "bold", "labelColor": "#000", "labelPadding": 19, "labelFlush": false, "labelOverlap": false, "grid": false, "title": null}},
            "y": {"field": "mu", "type": "quantitative", "scale": {"domain": [0, 1.45], "nice": false, "zero": false},
              "axis": {"orient": "left", "values": [0.5, 1], "tickSize": -10, "tickWidth": 2, "tickColor": "#000", "domain": true, "domainColor": "#000", "domainWidth": 2, "domainCap": "square", "labels": false, "grid": false, "title": null}},
            "color": {"field": "sample", "type": "nominal", "scale": {"domain": ["0-4 cm","0-4 cm (2)","10-20 cm","10-20 cm (2)","siderite","haematite"], "range": ["#0f6fd8","#0f6fd8","#8c8c8c","#bdbdbd","#000000","#000000"]},
              "legend": {"orient": "none", "legendX": 263, "legendY": 255, "values": ["0-4 cm","10-20 cm","siderite","haematite"], "title": null, "symbolType": "stroke", "symbolSize": 784, "symbolStrokeWidth": 2.5, "labelFont": "Open Sans", "labelFontSize": 15, "labelFontWeight": "bold", "labelColor": "#000", "labelOffset": 10, "rowPadding": 8, "padding": 0}},
            "strokeDash": {"field": "sample", "type": "nominal", "scale": {"domain": ["0-4 cm","0-4 cm (2)","10-20 cm","10-20 cm (2)","siderite","haematite"], "range": [[1,0],[1,0],[1,0],[1,0],[1,0],[2,2]]},
              "legend": {"orient": "none", "legendX": 263, "legendY": 255, "values": ["0-4 cm","10-20 cm","siderite","haematite"], "title": null, "symbolType": "stroke", "symbolSize": 784, "symbolStrokeWidth": 2.5, "labelFont": "Open Sans", "labelFontSize": 15, "labelFontWeight": "bold", "labelColor": "#000", "labelOffset": 10, "rowPadding": 8, "padding": 0}}
          }
        },
        {
          "data": {"name": "standards"},
          "transform": [{"filter": {"field": "sample", "equal": "haematite"}}],
          "mark": {"type": "line", "interpolate": "monotone", "strokeWidth": 2.2, "clip": true},
          "encoding": {
            "x": {"field": "energy", "type": "quantitative", "scale": {"domain": [7115, 7129.54], "nice": false, "zero": false},
              "axis": {"orient": "bottom", "values": [7117,7118,7119,7120,7121,7123,7124,7125,7126,7127,7129], "tickSize": -5, "tickWidth": 2, "tickColor": "#000", "domain": false, "labels": false, "grid": false, "title": null}},
            "y": {"field": "mu", "type": "quantitative", "scale": {"domain": [0, 1.45], "nice": false, "zero": false},
              "axis": {"orient": "left", "values": [0.1,0.2,0.3,0.4,0.6,0.7,0.8,0.9,1.1,1.2,1.3,1.4], "tickSize": -5.5, "tickWidth": 2, "tickColor": "#000", "domain": false, "labels": false, "grid": false, "title": null}},
            "color": {"field": "sample", "type": "nominal", "scale": {"domain": ["0-4 cm","0-4 cm (2)","10-20 cm","10-20 cm (2)","siderite","haematite"], "range": ["#0f6fd8","#0f6fd8","#8c8c8c","#bdbdbd","#000000","#000000"]},
              "legend": {"orient": "none", "legendX": 263, "legendY": 255, "values": ["0-4 cm","10-20 cm","siderite","haematite"], "title": null, "symbolType": "stroke", "symbolSize": 784, "symbolStrokeWidth": 2.5, "labelFont": "Open Sans", "labelFontSize": 15, "labelFontWeight": "bold", "labelColor": "#000", "labelOffset": 10, "rowPadding": 8, "padding": 0}},
            "strokeDash": {"field": "sample", "type": "nominal", "scale": {"domain": ["0-4 cm","0-4 cm (2)","10-20 cm","10-20 cm (2)","siderite","haematite"], "range": [[1,0],[1,0],[1,0],[1,0],[1,0],[2,2]]},
              "legend": {"orient": "none", "legendX": 263, "legendY": 255, "values": ["0-4 cm","10-20 cm","siderite","haematite"], "title": null, "symbolType": "stroke", "symbolSize": 784, "symbolStrokeWidth": 2.5, "labelFont": "Open Sans", "labelFontSize": 15, "labelFontWeight": "bold", "labelColor": "#000", "labelOffset": 10, "rowPadding": 8, "padding": 0}}
          }
        },
        {
          "data": {"name": "samples"},
          "transform": [{"filter": {"field": "month", "equal": "November"}}, {"filter": {"field": "sample", "oneOf": ["10-20 cm", "10-20 cm (2)"]}}],
          "mark": {"type": "line", "interpolate": "monotone", "strokeWidth": 2.2, "clip": true},
          "encoding": {
            "x": {"field": "energy", "type": "quantitative", "scale": {"domain": [7115, 7129.54], "nice": false, "zero": false},
              "axis": {"orient": "top", "ticks": false, "labels": false, "domain": true, "domainColor": "#000", "domainWidth": 2, "domainCap": "square", "grid": false, "title": null}},
            "y": {"field": "mu", "type": "quantitative", "scale": {"domain": [0, 1.45], "nice": false, "zero": false}, "axis": null},
            "color": {"field": "sample", "type": "nominal", "scale": {"domain": ["0-4 cm","0-4 cm (2)","10-20 cm","10-20 cm (2)","siderite","haematite"], "range": ["#0f6fd8","#0f6fd8","#8c8c8c","#bdbdbd","#000000","#000000"]},
              "legend": {"orient": "none", "legendX": 263, "legendY": 255, "values": ["0-4 cm","10-20 cm","siderite","haematite"], "title": null, "symbolType": "stroke", "symbolSize": 784, "symbolStrokeWidth": 2.5, "labelFont": "Open Sans", "labelFontSize": 15, "labelFontWeight": "bold", "labelColor": "#000", "labelOffset": 10, "rowPadding": 8, "padding": 0}},
            "strokeDash": {"field": "sample", "type": "nominal", "scale": {"domain": ["0-4 cm","0-4 cm (2)","10-20 cm","10-20 cm (2)","siderite","haematite"], "range": [[1,0],[1,0],[1,0],[1,0],[1,0],[2,2]]},
              "legend": {"orient": "none", "legendX": 263, "legendY": 255, "values": ["0-4 cm","10-20 cm","siderite","haematite"], "title": null, "symbolType": "stroke", "symbolSize": 784, "symbolStrokeWidth": 2.5, "labelFont": "Open Sans", "labelFontSize": 15, "labelFontWeight": "bold", "labelColor": "#000", "labelOffset": 10, "rowPadding": 8, "padding": 0}}
          }
        },
        {
          "data": {"name": "samples"},
          "transform": [{"filter": {"field": "month", "equal": "November"}}, {"filter": {"field": "sample", "oneOf": ["0-4 cm", "0-4 cm (2)"]}}],
          "mark": {"type": "line", "interpolate": "monotone", "strokeWidth": 2.2, "clip": true},
          "encoding": {
            "x": {"field": "energy", "type": "quantitative", "scale": {"domain": [7115, 7129.54], "nice": false, "zero": false}, "axis": null},
            "y": {"field": "mu", "type": "quantitative", "scale": {"domain": [0, 1.45], "nice": false, "zero": false}, "axis": null},
            "color": {"field": "sample", "type": "nominal", "scale": {"domain": ["0-4 cm","0-4 cm (2)","10-20 cm","10-20 cm (2)","siderite","haematite"], "range": ["#0f6fd8","#0f6fd8","#8c8c8c","#bdbdbd","#000000","#000000"]},
              "legend": {"orient": "none", "legendX": 263, "legendY": 255, "values": ["0-4 cm","10-20 cm","siderite","haematite"], "title": null, "symbolType": "stroke", "symbolSize": 784, "symbolStrokeWidth": 2.5, "labelFont": "Open Sans", "labelFontSize": 15, "labelFontWeight": "bold", "labelColor": "#000", "labelOffset": 10, "rowPadding": 8, "padding": 0}},
            "strokeDash": {"field": "sample", "type": "nominal", "scale": {"domain": ["0-4 cm","0-4 cm (2)","10-20 cm","10-20 cm (2)","siderite","haematite"], "range": [[1,0],[1,0],[1,0],[1,0],[1,0],[2,2]]},
              "legend": {"orient": "none", "legendX": 263, "legendY": 255, "values": ["0-4 cm","10-20 cm","siderite","haematite"], "title": null, "symbolType": "stroke", "symbolSize": 784, "symbolStrokeWidth": 2.5, "labelFont": "Open Sans", "labelFontSize": 15, "labelFontWeight": "bold", "labelColor": "#000", "labelOffset": 10, "rowPadding": 8, "padding": 0}}
          }
        },
        {
          "data": {"values": [{"month": "November"}]},
          "mark": {"type": "text", "align": "left", "baseline": "alphabetic", "font": "Open Sans", "fontSize": 28, "fontWeight": "bold", "color": "#8a8a8a"},
          "encoding": {
            "x": {"datum": 7115.62, "type": "quantitative", "axis": null},
            "y": {"datum": 1.3, "type": "quantitative", "axis": null},
            "text": {"field": "month"}
          }
        }
      ]
    }
  ]
}
